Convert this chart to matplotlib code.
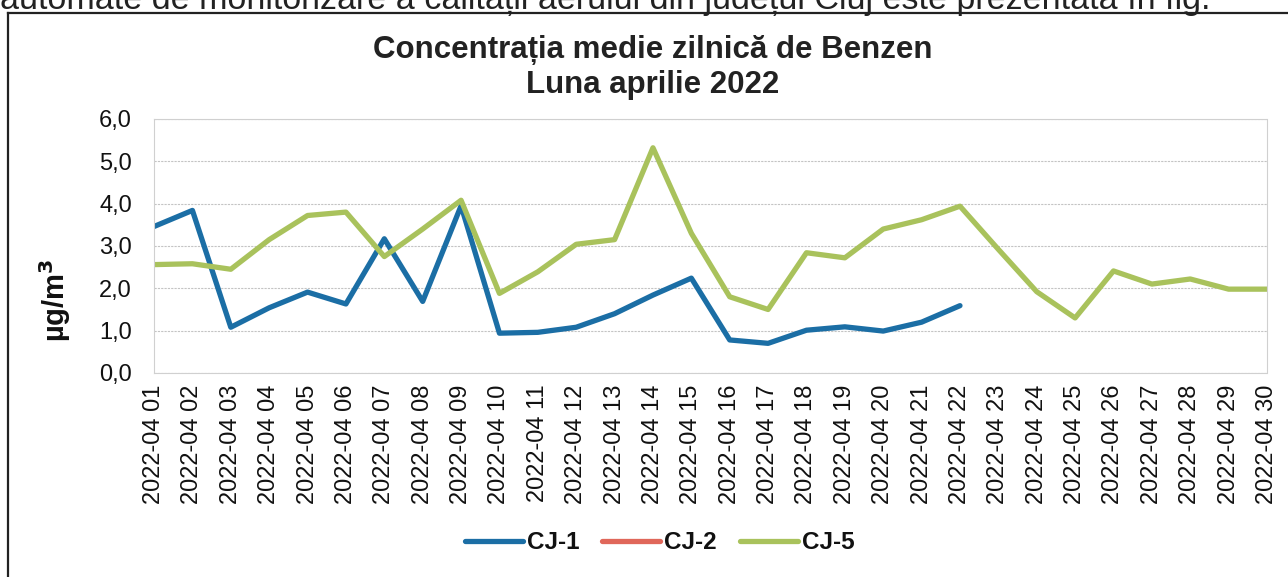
import numpy as np
import matplotlib.pyplot as plt
from matplotlib.lines import Line2D
from matplotlib.ticker import FuncFormatter

plt.rcParams['font.family'] = ['Liberation Sans', 'DejaVu Sans']

days = ["2022-04 %02d" % d for d in range(1, 31)]

# CJ-1 stops after 22 April
cj1 = [3.46, 3.84, 1.08, 1.54, 1.91, 1.63, 3.17, 1.69, 3.95, 0.94,
       0.96, 1.08, 1.40, 1.84, 2.24, 0.78, 0.70, 1.01, 1.09, 0.99,
       1.20, 1.59]
cj2 = []  # no data for CJ-2
cj5 = [2.56, 2.58, 2.45, 3.15, 3.72, 3.80, 2.75, 3.40, 4.08, 1.88,
       2.39, 3.04, 3.15, 5.32, 3.30, 1.80, 1.50, 2.84, 2.72, 3.40,
       3.62, 3.94, 2.92, 1.92, 1.30, 2.41, 2.10, 2.22, 1.98, 1.98]

fig = plt.figure(figsize=(12.88, 5.77), dpi=100)
ax = fig.add_axes([0.1196, 0.3536, 0.8641, 0.4402])

x = np.arange(len(days))
ax.plot(x[:len(cj1)], cj1, color="#1b6ea5", lw=3.8, label="CJ-1", solid_capstyle="round")
ax.plot(x[:len(cj2)], cj2, color="#e0675a", lw=3.8, label="CJ-2", solid_capstyle="round")
ax.plot(x, cj5, color="#a9c25c", lw=3.8, label="CJ-5", solid_capstyle="round")

ax.set_xlim(0, len(days) - 1)
ax.set_ylim(0, 6)
ax.set_yticks(np.arange(0, 7, 1))
ax.yaxis.set_major_formatter(FuncFormatter(lambda v, p: ("%.1f" % v).replace(".", ",")))
ax.set_xticks(x)
ax.set_xticklabels(days, rotation=90)
ax.tick_params(axis="both", length=0, labelsize=17, colors="#111111")
ax.tick_params(axis="x", pad=8.5)
ax.tick_params(axis="y", pad=16)

ax.grid(axis="y", color="#c4c4c4", lw=0.8, ls=(0, (2, 1)))
for s in ax.spines.values():
    s.set_color("#d0d0d0")
    s.set_linewidth(0.8)
    s.set_linestyle((0, (2, 1)))

fig.text(0.043, 0.48, "µg/m$^\\mathbf{3}$", rotation=90, fontsize=21, fontweight="bold",
         ha="center", va="center", color="#111111")

fig.text(0.507, 0.913, "Concentrația medie zilnică de Benzen", fontsize=22.5,
         fontweight="bold", ha="center", va="center", color="#222222")
fig.text(0.507, 0.852, "Luna aprilie 2022", fontsize=22.5,
         fontweight="bold", ha="center", va="center", color="#222222")

leg = fig.legend(loc="center", bbox_to_anchor=(0.512, 0.059), ncol=3, frameon=False,
                 prop={"size": 17.5, "weight": "bold"}, handlelength=2.4,
                 handletextpad=0.15, columnspacing=0.95)
for t in leg.get_texts():
    t.set_color("#111111")

# page text cut by the scan and the chart box
fig.text(0.0, 0.985, "automate de monitorizare a calității aerului din județul Cluj este prezentată în fig.",
         fontsize=24.5, ha="left", va="baseline", color="#222222")
fig.add_artist(Line2D([0.006, 1.0], [0.977, 0.977], color="#222222", lw=1.6))
fig.add_artist(Line2D([0.006, 0.006], [0.977, 0.0], color="#222222", lw=1.6))

fig.savefig("out.png", dpi=100)
